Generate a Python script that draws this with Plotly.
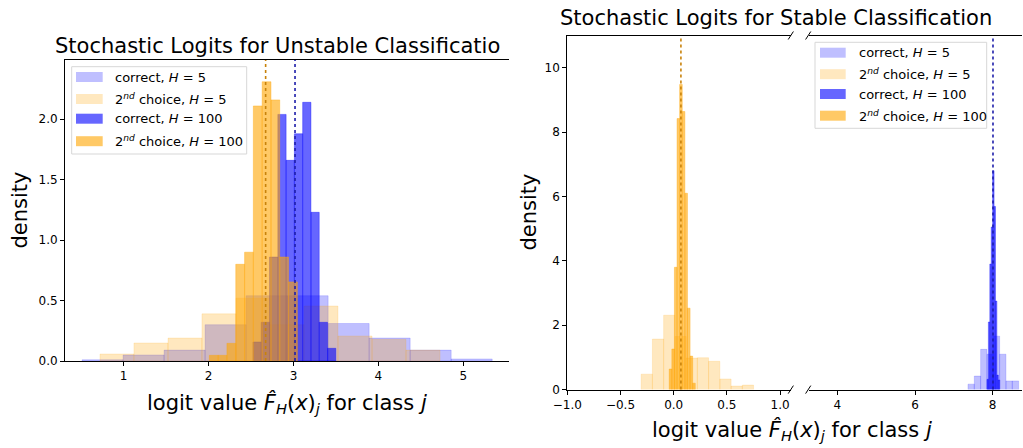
import numpy as np
import plotly.graph_objects as go

# ---------------- data ----------------
# Left panel: unstable classification
L_correct5_edges = [0.51, 0.993, 1.476, 1.959, 2.442, 2.925, 3.408, 3.891, 4.374, 4.857, 5.34]
L_correct5_dens = [0.01, 0.05, 0.09, 0.30, 0.54, 0.54, 0.31, 0.19, 0.09, 0.017]
L_second5_edges = [0.721, 1.121, 1.522, 1.922, 2.323, 2.723, 3.124, 3.524, 3.925, 4.325, 4.726]
L_second5_dens = [0.058, 0.149, 0.19, 0.39, 0.52, 0.30, 0.455, 0.207, 0.18, 0.09]
L_correct100_edges = [2.523, 2.6205, 2.718, 2.8155, 2.913, 3.0105, 3.108, 3.2055, 3.303, 3.4005, 3.498]
L_correct100_dens = [0.157, 0.32, 0.86, 2.04, 1.66, 1.88, 2.14, 1.23, 0.32, 0.105]
L_second100_edges = [2.009, 2.113, 2.216, 2.32, 2.424, 2.527, 2.631, 2.735, 2.838, 2.942, 3.046]
L_second100_dens = [0.047, 0.047, 0.146, 0.80, 0.90, 2.11, 2.31, 2.16, 0.86, 0.654]
L_mean_second = 2.672
L_mean_correct = 3.018

# Right panel: stable classification
R_second5_edges = [-0.306, -0.2003, -0.0946, 0.0111, 0.1168, 0.2225, 0.3282, 0.4339, 0.5396, 0.6453, 0.751]
R_second5_dens = [0.48, 1.57, 2.31, 1.65, 0.98, 0.99, 0.88, 0.33, 0.11, 0.14]
R_second100_edges = [-0.042, -0.0175, 0.007, 0.0315, 0.056, 0.0805, 0.105, 0.1295, 0.154, 0.1785, 0.203]
R_second100_dens = [0.64, 1.26, 3.80, 8.42, 9.48, 8.64, 6.1, 2.53, 1.04, 0.2]
R_correct5_edges = [7.364, 7.527, 7.69, 7.853, 8.016, 8.179, 8.342, 8.505, 8.668]
R_correct5_dens = [0.17, 0.42, 1.25, 1.1, 1.66, 1.10, 0.27, 0.27]
R_correct100_edges = [7.853, 7.8895, 7.926, 7.9625, 7.999, 8.0355, 8.072, 8.1085, 8.145, 8.1815]
R_correct100_dens = [0.32, 2.1, 3.9, 5.05, 6.8, 5.69, 2.75, 0.45, 0.3]
R_mean_second = 0.068
R_mean_correct = 8.008

legend_labels = ["correct, <i>H</i> = 5",
                 "2<sup><i>nd</i></sup> choice, <i>H</i> = 5",
                 "correct, <i>H</i> = 100",
                 "2<sup><i>nd</i></sup> choice, <i>H</i> = 100"]

left_x_ticks = [1, 2, 3, 4, 5]
left_y_ticks = [0, 0.5, 1.0, 1.5, 2.0]
rl_x_ticks = [-1.0, -0.5, 0.0, 0.5, 1.0]
rr_x_ticks = [4, 6, 8]
r_y_ticks = [0, 2, 4, 6, 8, 10]

title_left = "Stochastic Logits for Unstable Classificatio"
title_right = "Stochastic Logits for Stable Classification"
xlabel = "logit value <i>F̂</i><sub><i>H</i></sub>(<i>x</i>)<sub><i>j</i></sub> for class <i>j</i>"
ylabel = "density"

# ---------------- styles ----------------
W, H = 1023, 448
FONT = "DejaVu Sans"
C_BLUE_L = "rgba(0,0,255,0.25)"
C_ORNG_L = "rgba(255,165,0,0.25)"
C_BLUE_D = "rgba(0,0,255,0.6)"
C_ORNG_D = "rgba(255,165,0,0.6)"
colors = [C_BLUE_L, C_ORNG_L, C_BLUE_D, C_ORNG_D]


def px(x):
    return x / W


def py(y):
    return 1 - y / H


def hist_trace(edges, dens, color, xa, ya):
    e = np.array(edges, dtype=float)
    return go.Bar(x=e[:-1], y=dens, width=np.diff(e), offset=0,
                  marker=dict(color=color, line=dict(color=color, width=0.6)),
                  xaxis=xa, yaxis=ya, showlegend=False, hoverinfo="skip")


fig = go.Figure()
# left
fig.add_trace(hist_trace(L_correct5_edges, L_correct5_dens, C_BLUE_L, "x", "y"))
fig.add_trace(hist_trace(L_second5_edges, L_second5_dens, C_ORNG_L, "x", "y"))
fig.add_trace(hist_trace(L_correct100_edges, L_correct100_dens, C_BLUE_D, "x", "y"))
fig.add_trace(hist_trace(L_second100_edges, L_second100_dens, C_ORNG_D, "x", "y"))
# right-left (second choice)
fig.add_trace(hist_trace(R_second5_edges, R_second5_dens, C_ORNG_L, "x2", "y2"))
fig.add_trace(hist_trace(R_second100_edges, R_second100_dens, C_ORNG_D, "x2", "y2"))
# right-right (correct)
fig.add_trace(hist_trace(R_correct5_edges, R_correct5_dens, C_BLUE_L, "x3", "y3"))
fig.add_trace(hist_trace(R_correct100_edges, R_correct100_dens, C_BLUE_D, "x3", "y3"))

tickfont = dict(family=FONT, size=12, color="black")
ax_common = dict(showgrid=False, zeroline=False, ticks="outside", ticklen=4,
                 tickwidth=1, tickcolor="black", linecolor="black", linewidth=1,
                 tickfont=tickfont, fixedrange=True, automargin=False)

fig.update_layout(
    template="none",
    width=W, height=H, margin=dict(l=0, r=0, t=0, b=0, pad=0),
    paper_bgcolor="white", plot_bgcolor="rgba(0,0,0,0)",
    barmode="overlay", bargap=0, showlegend=False,
    font=dict(family=FONT, color="black"),
    xaxis=dict(domain=[px(65), px(509)], range=[0.309, 5.538], anchor="y",
               tickvals=left_x_ticks, ticktext=[str(v) for v in left_x_ticks],
               showline=True, mirror=True, **ax_common),
    yaxis=dict(domain=[py(361), py(60)], range=[0, 2.49], anchor="x",
               tickvals=left_y_ticks, ticktext=[f"{v:.1f}" for v in left_y_ticks],
               showline=True, mirror=False, **ax_common),
    xaxis2=dict(domain=[px(567.3), px(790.5)], range=[-1.0, 1.098], anchor="y2",
                tickvals=rl_x_ticks,
                ticktext=[f"{v:.1f}".replace("-", "\u2212") for v in rl_x_ticks],
                showline=True, mirror=True, **ax_common),
    yaxis2=dict(domain=[py(389.6), py(35.5)], range=[0, 11], anchor="x2",
                tickvals=r_y_ticks, ticktext=[str(v) for v in r_y_ticks],
                showline=True, mirror=False, **ax_common),
    xaxis3=dict(domain=[px(808.5), px(1022)], range=[3.257, 8.755], anchor="y3",
                tickvals=rr_x_ticks, ticktext=[str(v) for v in rr_x_ticks],
                showline=True, mirror=True, **ax_common),
    yaxis3=dict(domain=[py(389.6), py(35.5)], range=[0, 11], anchor="x3",
                showline=False, showticklabels=False, ticks="", showgrid=False,
                zeroline=False, fixedrange=True, automargin=False),
)

shapes = []
# mean lines
for xv, col, xr, yr in [(L_mean_second, "rgb(200,130,10)", "x", "y"),
                        (L_mean_correct, "rgb(30,30,170)", "x", "y"),
                        (R_mean_second, "rgb(200,130,10)", "x2", "y2"),
                        (R_mean_correct, "rgb(30,30,170)", "x3", "y3")]:
    shapes.append(dict(type="line", xref=xr, yref=f"{yr} domain", x0=xv, x1=xv,
                       y0=0, y1=1, line=dict(color=col, width=1.6, dash="dot"),
                       layer="above"))

# broken axis marks
for cx in [790.8, 808.2]:
    for cy in [35.5, 389.6]:
        shapes.append(dict(type="line", xref="paper", yref="paper",
                           x0=px(cx - 2.6), y0=py(cy + 4), x1=px(cx + 2.6), y1=py(cy - 4),
                           line=dict(color="black", width=1), layer="above"))


def add_legend(box, patch_x, rows, text_x):
    x0, x1, y0, y1 = box
    shapes.append(dict(type="rect", xref="paper", yref="paper",
                       x0=px(x0), x1=px(x1), y0=py(y1), y1=py(y0),
                       fillcolor="rgba(255,255,255,0.8)",
                       line=dict(color="rgb(215,215,215)", width=1), layer="above"))
    anns = []
    for lab, col, cy in zip(legend_labels, colors, rows):
        shapes.append(dict(type="rect", xref="paper", yref="paper",
                           x0=px(patch_x[0]), x1=px(patch_x[1]),
                           y0=py(cy + 5), y1=py(cy - 5),
                           fillcolor=col, line=dict(width=0), layer="above"))
        anns.append(dict(x=px(text_x), y=py(cy), xref="paper", yref="paper",
                         text=lab, showarrow=False, xanchor="left", yanchor="middle",
                         font=dict(family=FONT, size=13, color="black")))
    return anns


annotations = []
annotations += add_legend((71.7, 246.7, 66.7, 154.0), (76.0, 102.7),
                          [77.0, 99.0, 118.7, 141.2], 113.3)
annotations += add_legend((815.0, 986.7, 42.3, 128.3), (820.0, 845.7),
                          [52.7, 74.2, 94.0, 115.7], 856.7)

# titles and axis labels
annotations += [
    dict(x=px(52.5), y=py(45.5), xref="paper", yref="paper", text=title_left,
         showarrow=False, xanchor="left", yanchor="middle",
         font=dict(family=FONT, size=21, color="black")),
    dict(x=px(775.5), y=py(17.5), xref="paper", yref="paper", text=title_right,
         showarrow=False, xanchor="center", yanchor="middle",
         font=dict(family=FONT, size=21, color="black")),
    dict(x=px(287), y=py(403), xref="paper", yref="paper", text=xlabel,
         showarrow=False, xanchor="center", yanchor="middle",
         font=dict(family=FONT, size=21, color="black")),
    dict(x=px(792), y=py(430), xref="paper", yref="paper", text=xlabel,
         showarrow=False, xanchor="center", yanchor="middle",
         font=dict(family=FONT, size=21, color="black")),
    dict(x=px(19), y=py(210.5), xref="paper", yref="paper", text=ylabel,
         showarrow=False, xanchor="center", yanchor="middle", textangle=-90,
         font=dict(family=FONT, size=21, color="black")),
    dict(x=px(528), y=py(212.5), xref="paper", yref="paper", text=ylabel,
         showarrow=False, xanchor="center", yanchor="middle", textangle=-90,
         font=dict(family=FONT, size=21, color="black")),
]

fig.update_layout(shapes=shapes, annotations=annotations)
fig.write_html("out.html", config={"displayModeBar": False, "staticPlot": True},
               post_script="document.body.style.margin='0';document.body.style.padding='0';")
